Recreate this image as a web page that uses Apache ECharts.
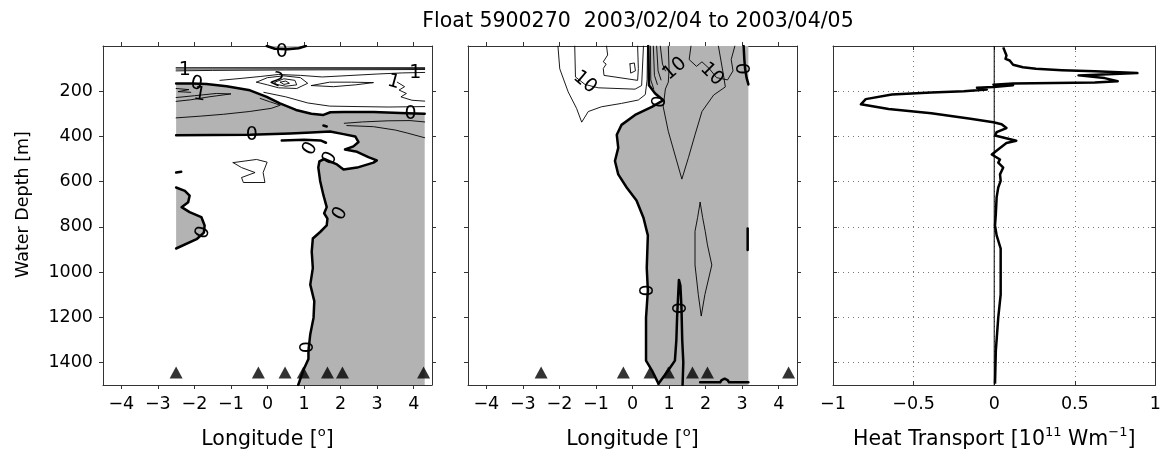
<!DOCTYPE html>
<html>
<head>
<meta charset="utf-8">
<script src="https://cdn.jsdelivr.net/npm/echarts@6/dist/echarts.min.js"></script>
<style>
  html, body { margin: 0; padding: 0; background: #fff; }
  #chart { width: 1164px; height: 455px; }
</style>
</head>
<body>
<div id="chart"></div>
<script>
// ---- labels and ticks ----
const TITLE = 'Float 5900270  2003/02/04 to 2003/04/05';
const DEPTH_TICKS = [200, 400, 600, 800, 1000, 1200, 1400];
const LON_TICKS = [-4, -3, -2, -1, 0, 1, 2, 3, 4];

// longitudes of the float profiles (markers near the bottom)
const FLOAT_LON = [-2.5, -0.25, 0.48, 0.98, 1.64, 2.05, 4.27];
const FLOAT_MARK_DEPTH = 1445;

// ---- heat transport profile (10^11 W/m) vs depth (m) ----
const HT_DEPTH = [6, 42, 57, 64, 83, 94, 101, 107, 112, 120,
  130, 142, 156, 162, 166, 171, 174, 181, 185, 193,
  200, 206, 215, 235, 258, 279, 298, 322, 337, 346,
  363, 381, 396, 419, 429, 451, 480, 502, 516, 538,
  568, 597, 626, 670, 743, 794, 838, 896, 983, 1100,
  1202, 1348, 1494];
const HT_VALUE = [0.056, 0.076, 0.07, 0.096, 0.117, 0.178, 0.259, 0.42, 0.624, 0.888,
  0.523, 0.685, 0.766, 0.624, 0.117, -0.005, 0.117, -0.005, -0.107, -0.046,
  -0.188, -0.39, -0.635, -0.797, -0.827, -0.655, -0.39, -0.147, -0.005, 0.046,
  0.076, 0.015, 0.005, 0.137, 0.076, 0.036, -0.015, 0.036, 0.025, 0.056,
  0.036, 0.04, 0.025, 0.015, 0.010, 0.005, 0.015, 0.04, 0.04, 0.04,
  0.025, 0.01, 0.005];

// ---- left section: zero contours [lon, depth] ----
const P1_ZERO_TOP = [[-2.5, 166], [-2.05, 166], [-1.67, 168], [-1.12, 178], [-0.48, 196], [-0.02, 225],
  [0.34, 254], [0.78, 283], [1.2, 300], [1.53, 305], [1.72, 293], [2.08, 292], [2.9, 292], [3.82, 298], [4.3, 300]];
const P1_CORNER_SE = [[4.3, 1500]];
const P1_ZERO_EAST = [[0.84, 1500], [0.98, 1435], [1.12, 1385], [1.12, 1348], [1.17, 1275], [1.26, 1202],
  [1.28, 1129], [1.17, 1056], [1.24, 983], [1.21, 910], [1.24, 852], [1.44, 823], [1.62, 794], [1.64, 764],
  [1.55, 740], [1.62, 713], [1.53, 660], [1.44, 597], [1.39, 538], [1.42, 510], [1.55, 500], [1.90, 524],
  [2.08, 546], [2.45, 538], [2.90, 516], [2.99, 506], [2.76, 492], [2.45, 468], [2.12, 458], [2.35, 444],
  [2.49, 425], [2.40, 400], [2.08, 390], [1.71, 378], [1.2, 383], [0.62, 387], [-0.48, 393], [-2.5, 395]];
const P1_ZERO_WEST = [[-2.5, 626], [-2.26, 641], [-2.13, 662], [-2.17, 691], [-2.35, 713], [-2.13, 735],
  [-1.81, 757], [-1.72, 794], [-1.74, 826], [-1.94, 855], [-2.5, 896]];
const P1_ZERO_CAP = [[-0.02, 0], [0.2, 12], [0.55, 14], [0.85, 10], [1.05, 0]];
const P1_ZERO_BITS = [
  [[0.39, 418], [1.0, 415], [1.45, 418], [1.6, 428]],
  [[-2.5, 560], [-2.36, 556]],
  [[1.53, 352], [1.62, 356]]
];
const P1_THIN = [
  [[-2.5, 96], [4.3, 96]],
  [[-2.5, 102], [1.0, 101], [4.3, 100]],
  [[-2.5, 110], [-1.5, 108], [0.5, 106], [2.5, 105], [4.3, 104]],
  [[-1.3, 152], [-0.7, 143], [-0.2, 135], [0.3, 126], [0.9, 130], [1.5, 137], [2.2, 131], [3.0, 124], [3.7, 119], [4.3, 117]],
  [[-0.3, 160], [0.0, 140], [0.45, 132], [0.9, 140], [1.1, 165], [0.8, 188], [0.3, 185], [0.0, 172], [-0.3, 160]],
  [[0.2, 160], [0.45, 145], [0.75, 152], [0.8, 172], [0.5, 178], [0.25, 170], [0.2, 160]],
  [[0.35, 160], [0.5, 155], [0.6, 165], [0.45, 170], [0.35, 160]],
  [[1.2, 175], [1.7, 160], [2.3, 160], [2.9, 162], [2.4, 172], [1.8, 180], [1.2, 175]],
  [[-0.1, 205], [0.5, 225], [1.1, 252], [1.7, 266], [2.45, 268], [3.3, 270], [4.3, 268]],
  [[3.55, 160], [3.75, 180], [3.6, 195], [3.8, 210], [3.65, 225], [3.95, 240], [4.3, 244]],
  [[-2.5, 188], [-2.15, 193], [-2.45, 202], [-2.1, 205]],
  [[-2.5, 228], [-2.0, 220], [-1.4, 210], [-1.0, 212], [-1.6, 225], [-2.1, 238], [-2.5, 245]],
  [[-2.5, 318], [-1.8, 310], [-1.2, 302], [-0.5, 290], [0.1, 276], [0.35, 262], [0.05, 246], [-0.2, 232]],
  [[2.1, 342], [2.6, 336], [3.3, 331], [3.9, 330], [4.3, 336]],
  [[2.17, 352], [2.9, 357], [3.5, 372], [3.82, 385], [4.3, 406]],
  [[-0.94, 516], [-0.30, 502], [-0.01, 514], [-0.12, 560], [-0.07, 604], [-0.66, 604], [-0.71, 582],
    [-0.34, 560], [-0.71, 538], [-0.94, 516]]
];
const P1_LABELS = [[-2.26, 108, '1'], [4.04, 118, '1'], [3.45, 160, '1'], [-1.94, 168, '0'], [-1.85, 215, '1'],
  [0.25, 152, '2'], [-0.43, 393, '0'], [3.91, 302, '0'], [1.17, 455, '0'], [1.71, 498, '0'],
  [1.99, 743, '0'], [-1.76, 826, '0'], [1.12, 1333, '0'], [0.39, 28, '0']];
const P1_LABEL_ROT = [0, 0, -15, -10, -10, -25, 0, 0, 60, 60, 60, 70, 90, 0];

// ---- middle section: zero contours [lon, depth] ----
const P2_ZERO_WEST = [[0.43, 0], [0.45, 174], [0.62, 210], [0.84, 240], [0.53, 269], [0.07, 305], [-0.30, 349],
  [-0.43, 393], [-0.39, 451], [-0.48, 509], [-0.39, 568], [-0.16, 626], [0.11, 684], [0.30, 760], [0.42, 838],
  [0.39, 983], [0.42, 1082], [0.37, 1202], [0.37, 1392], [0.53, 1435], [0.71, 1494]];
const P2_CORNERS = [[0.71, 1500], [3.17, 1500], [3.17, 0]];
const P2_ZERO_INNER = [[0.71, 1494], [0.98, 1435], [1.16, 1392], [1.20, 1300], [1.22, 1200], [1.25, 1100],
  [1.27, 1035], [1.31, 1060], [1.34, 1160], [1.36, 1300], [1.39, 1400], [1.37, 1500]];
const P2_ZERO_BITS = [
  [[3.04, 0], [3.06, 60], [3.08, 101], [3.12, 140], [3.17, 170]],
  [[3.15, 808], [3.15, 903]],
  [[1.85, 1488], [2.4, 1488], [2.44, 1478], [2.52, 1472], [2.6, 1478], [2.64, 1488], [3.17, 1488]]
];
const P2_THIN = [
  [[-2.04, 0], [-1.99, 101], [-1.76, 203], [-1.53, 276], [-1.39, 337], [-1.21, 290], [-0.85, 269],
    [-0.30, 254], [0.16, 239], [0.35, 215], [0.40, 150], [0.41, 0]],
  [[-1.58, 0], [-1.56, 137], [-1.3, 170], [-0.94, 185], [0.07, 191], [0.25, 175], [0.30, 0]],
  [[-0.71, 0], [-0.68, 40], [-0.80, 70], [-0.72, 80], [-0.80, 100], [-0.78, 130], [0.14, 152], [0.16, 100], [0.14, 0]],
  [[-0.07, 79], [0.05, 75], [0.08, 110], [-0.05, 120], [-0.07, 79]],
  [[0.49, 0], [0.50, 150], [0.58, 190]],
  [[0.57, 0], [0.60, 130], [0.68, 170]],
  [[0.66, 0], [0.70, 110], [0.78, 150]],
  [[0.76, 0], [0.82, 80], [0.90, 110]],
  [[0.98, 0], [1.0, 100], [0.98, 160], [0.90, 190], [0.84, 269], [0.98, 378], [1.21, 509], [1.35, 589],
    [1.53, 494], [1.71, 393], [1.90, 290], [2.22, 217], [2.54, 181], [2.49, 130], [2.35, 0]],
  [[1.6, 0], [1.55, 60], [1.75, 90], [1.9, 70], [2.1, 100], [2.3, 140], [2.6, 150], [2.75, 110], [2.7, 60], [2.8, 0]],
  [[1.85, 692], [1.78, 760], [1.71, 820], [1.71, 969], [1.80, 1100], [1.88, 1195], [1.98, 1100], [2.17, 969],
    [2.05, 880], [1.99, 820], [1.92, 760], [1.85, 692]]
];
const P2_LABELS = [[-1.30, 160, '10'], [1.16, 101, '10'], [2.17, 125, '10'], [0.75, 247, '0'],
  [3.08, 101, '0'], [0.42, 1082, '0'], [1.34, 1160, '0']];
const P2_LABEL_ROT = [-40, 40, -45, 80, 90, 90, 90];

// ---- styling ----
const FONT = '"DejaVu Sans", "Liberation Sans", Arial, sans-serif';
const SHADE = '#b3b3b3';
const AXIS_COLOR = '#333';
const TICK_FONT = 17.5;
const NAME_FONT = 20.5;
const CLABEL_FONT = 19;

const minus = v => String(v).replace('-', '\u2212');
const plain = v => String(v);
const nameRich = {
  t: { fontSize: NAME_FONT, fontFamily: FONT, color: '#000' },
  s: { fontSize: 13, fontFamily: FONT, color: '#000', padding: [0, 0, 14, 0] }
};

const GRIDS = [
  { left: 103, top: 46, width: 329, height: 341 },
  { left: 468, top: 46, width: 329, height: 341 },
  { left: 833, top: 46, width: 329, height: 341 }
];

function lonAxis(g, pos) {
  const bottom = pos === 'bottom';
  return {
    type: 'value', gridIndex: g, position: pos, min: -4.5, max: 4.5,
    axisLine: { show: true, onZero: false, lineStyle: { color: AXIS_COLOR, width: 1 } },
    axisTick: { show: true, inside: false, length: 4, customValues: LON_TICKS, lineStyle: { color: AXIS_COLOR } },
    axisLabel: { show: bottom, customValues: LON_TICKS, formatter: minus, margin: 10, color: '#000',
      fontSize: TICK_FONT, fontFamily: FONT },
    splitLine: { show: false },
    name: bottom ? '{t|Longitude [}{s|o}{t|]}' : '',
    nameLocation: 'middle', nameGap: 41,
    nameTextStyle: { rich: nameRich }
  };
}

function depthAxis(g, pos, labels) {
  return {
    type: 'value', gridIndex: g, position: pos, inverse: true, min: 0, max: 1500,
    axisLine: { show: true, onZero: false, lineStyle: { color: AXIS_COLOR, width: 1 } },
    axisTick: { show: true, inside: false, length: 4, customValues: DEPTH_TICKS, lineStyle: { color: AXIS_COLOR } },
    axisLabel: { show: labels, customValues: DEPTH_TICKS, formatter: plain, margin: 10, color: '#000',
      fontSize: TICK_FONT, fontFamily: FONT },
    splitLine: { show: false },
    name: labels ? 'Water Depth [m]' : '',
    nameLocation: 'middle', nameGap: 71,
    nameTextStyle: { fontSize: 17.5, fontFamily: FONT, color: '#000', padding: [0, 0, 0, 22] }
  };
}

const dotted = { show: true, lineStyle: { color: '#777', width: 1, type: [1, 4] } };

const xAxes = [
  lonAxis(0, 'bottom'), lonAxis(0, 'top'),
  lonAxis(1, 'bottom'), lonAxis(1, 'top'),
  {
    type: 'value', gridIndex: 2, position: 'bottom', min: -1, max: 1, interval: 0.5,
    axisLine: { show: true, onZero: false, lineStyle: { color: AXIS_COLOR } },
    axisTick: { show: true, inside: true, length: 4, lineStyle: { color: AXIS_COLOR } },
    axisLabel: { formatter: minus, margin: 10, color: '#000', fontSize: TICK_FONT, fontFamily: FONT },
    splitLine: dotted,
    name: '{t|Heat Transport [10}{s|11}{t| Wm}{s|\u22121}{t|]}',
    nameLocation: 'middle', nameGap: 41,
    nameTextStyle: { rich: nameRich }
  },
  {
    type: 'value', gridIndex: 2, position: 'top', min: -1, max: 1, interval: 0.5,
    axisLine: { show: true, onZero: false, lineStyle: { color: AXIS_COLOR } },
    axisTick: { show: true, inside: true, length: 4, lineStyle: { color: AXIS_COLOR } },
    axisLabel: { show: false }, splitLine: { show: false }
  }
];

const yAxes = [
  depthAxis(0, 'left', true), depthAxis(0, 'right', false),
  depthAxis(1, 'left', false), depthAxis(1, 'right', false),
  {
    type: 'value', gridIndex: 2, position: 'left', inverse: true, min: 0, max: 1500, interval: 200,
    axisLine: { show: true, onZero: false, lineStyle: { color: AXIS_COLOR } },
    axisTick: { show: true, inside: true, length: 4, lineStyle: { color: AXIS_COLOR } },
    axisLabel: { show: false }, splitLine: dotted
  },
  {
    type: 'value', gridIndex: 2, position: 'right', inverse: true, min: 0, max: 1500, interval: 200,
    axisLine: { show: true, onZero: false, lineStyle: { color: AXIS_COLOR } },
    axisTick: { show: true, inside: true, length: 4, lineStyle: { color: AXIS_COLOR } },
    axisLabel: { show: false }, splitLine: { show: false }
  }
];

// filled (positive) regions of a section
function shadeSeries(g, polys) {
  return {
    type: 'custom', xAxisIndex: 2 * g, yAxisIndex: 2 * g, z: 1, silent: true, clip: true,
    data: polys.map(p => p[0]),
    renderItem: (params, api) => ({
      type: 'polygon',
      shape: { points: polys[params.dataIndex].map(p => api.coord(p)) },
      style: { fill: SHADE, stroke: null }
    })
  };
}

function contourSeries(g, lines, width) {
  return lines.map(pts => ({
    type: 'line', xAxisIndex: 2 * g, yAxisIndex: 2 * g, z: 3, silent: true, clip: true,
    data: pts, symbol: 'none', showSymbol: false,
    lineStyle: { color: '#000', width: width, join: 'round', cap: 'round' }
  }));
}

// contour value labels drawn on the lines
function labelSeries(g, labels, rots) {
  return {
    type: 'custom', xAxisIndex: 2 * g, yAxisIndex: 2 * g, z: 5, silent: true, clip: false,
    data: labels.map(l => [l[0], l[1]]),
    renderItem: (params, api) => {
      const c = api.coord([api.value(0), api.value(1)]);
      return {
        type: 'text', x: c[0], y: c[1], rotation: rots[params.dataIndex] * Math.PI / 180,
        style: { text: labels[params.dataIndex][2], fontSize: CLABEL_FONT, fontFamily: FONT, fill: '#000',
          align: 'center', verticalAlign: 'middle' }
      };
    }
  };
}

function floatMarks(g) {
  return {
    type: 'scatter', xAxisIndex: 2 * g, yAxisIndex: 2 * g, z: 6, silent: true,
    symbol: 'triangle', symbolSize: [13, 12], itemStyle: { color: '#000' },
    data: FLOAT_LON.map(x => [x, FLOAT_MARK_DEPTH])
  };
}

const series = [
  shadeSeries(0, [P1_ZERO_TOP.concat(P1_CORNER_SE, P1_ZERO_EAST), P1_ZERO_WEST, P1_ZERO_CAP]),
  ...contourSeries(0, P1_THIN, 0.9),
  ...contourSeries(0, [P1_ZERO_TOP, P1_ZERO_EAST, P1_ZERO_WEST, P1_ZERO_CAP, ...P1_ZERO_BITS], 2.5),
  labelSeries(0, P1_LABELS, P1_LABEL_ROT),
  floatMarks(0),

  shadeSeries(1, [P2_ZERO_WEST.concat(P2_CORNERS)]),
  ...contourSeries(1, P2_THIN, 0.9),
  ...contourSeries(1, [P2_ZERO_WEST, P2_ZERO_INNER, ...P2_ZERO_BITS], 2.5),
  labelSeries(1, P2_LABELS, P2_LABEL_ROT),
  floatMarks(1),

  {
    type: 'line', xAxisIndex: 4, yAxisIndex: 4, z: 3, silent: true, symbol: 'none',
    data: [[0, 0], [0, 1500]], lineStyle: { color: '#000', width: 1 }
  },
  {
    type: 'line', xAxisIndex: 4, yAxisIndex: 4, z: 4, silent: true, symbol: 'none', clip: true,
    data: HT_DEPTH.map((d, i) => [HT_VALUE[i], d]),
    lineStyle: { color: '#000', width: 2.5, join: 'round' }
  }
];

const chart = echarts.init(document.getElementById('chart'), null, { renderer: 'canvas' });
chart.setOption({
  animation: false,
  backgroundColor: '#fff',
  textStyle: { fontFamily: FONT },
  title: {
    text: TITLE, left: 633, top: 6, textAlign: 'center',
    textStyle: { fontSize: 20.5, fontWeight: 'normal', fontFamily: FONT, color: '#000' }
  },
  grid: GRIDS,
  xAxis: xAxes,
  yAxis: yAxes,
  series: series
});
</script>
</body>
</html>
